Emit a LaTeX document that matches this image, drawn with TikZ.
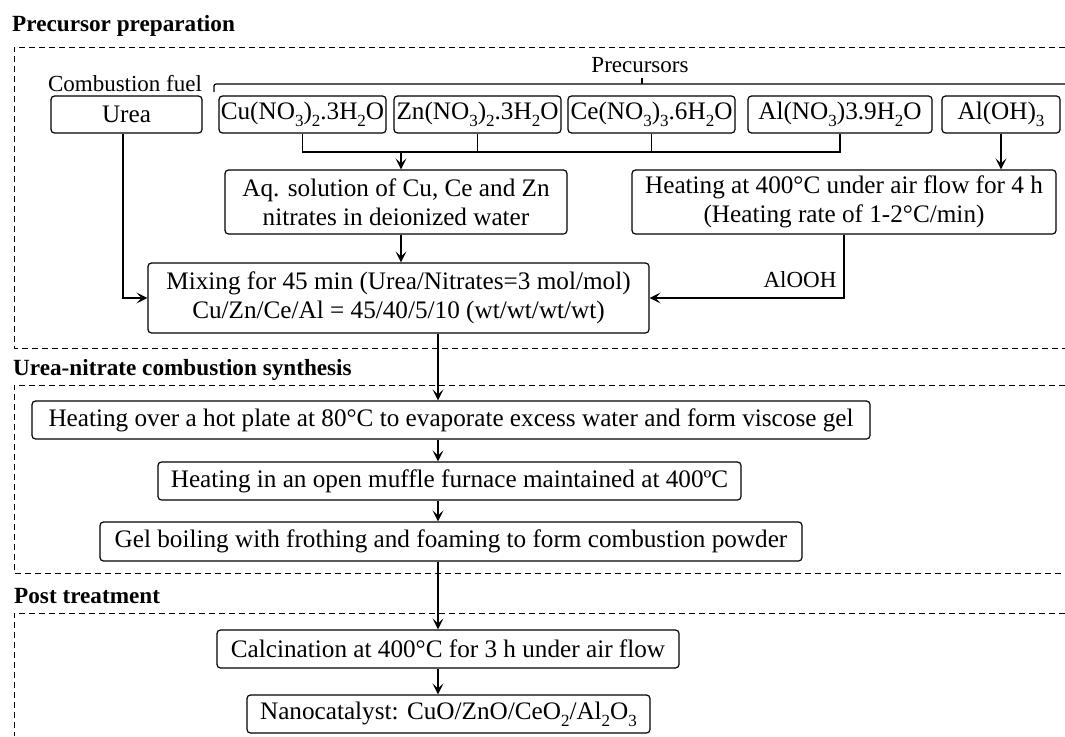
\documentclass[tikz,border=0pt]{standalone}
\usepackage{fontspec}
\setmainfont{Liberation Serif}
\usetikzlibrary{arrows.meta,calc}
\newcommand\sbs[1]{\raisebox{-0.28em}{\fontsize{17}{17}\selectfont #1}}
\begin{document}
\begin{tikzpicture}[x=1pt,y=-1pt,
  every node/.style={font=\fontsize{23}{27}\selectfont},
  box/.style={draw,rounded corners=3.5pt,line width=1.2pt,inner sep=1pt,align=center,font=\fontsize{25.2}{29}\selectfont},
  conn/.style={line width=1.2pt},
  arr/.style={conn,-{Stealth[length=11pt,width=11pt,inset=5pt]}},
  frame/.style={line width=0.9pt,dash pattern=on 6pt off 4pt},
  ttl/.style={anchor=base west,inner sep=0pt,font=\fontsize{23.2}{27}\selectfont\bfseries},
  lbl/.style={inner sep=0pt}
]
\useasboundingbox (0,0) rectangle (1065,736);
% frames
\draw[frame] (1065,47) -- (14,47) -- (14,348) -- (1065,348);
\draw[frame] (1065,385) -- (14,385) -- (14,573) -- (1065,573);
\draw[frame] (1065,613) -- (14,613) -- (14,736);
% titles
\node[ttl] (t1) at (12,31) {Precursor preparation};
\node[ttl] (t2) at (13,375) {Urea-nitrate combustion synthesis};
\node[ttl] (t3) at (14,603) {Post treatment};
% labels
\node[lbl,anchor=base] (fuel) at (125,91) {Combustion fuel};
\node[lbl,anchor=base] (prec) at (640,72) {Precursors};
\draw[conn,rounded corners=2pt] (214,92) -- (214,84) -- (1065,84);
\draw[conn] (642,84) -- (642,78);
% top row
\node[box,minimum width=151pt,minimum height=37pt] (urea) at (126.5,114.5) {Urea};
\node[box,minimum width=167pt,minimum height=37pt] (cu) at (302.5,114.5) {Cu(NO\sbs{3})\sbs{2}.3H\sbs{2}O};
\node[box,minimum width=167pt,minimum height=37pt] (zn) at (477.5,114.5) {Zn(NO\sbs{3})\sbs{2}.3H\sbs{2}O};
\node[box,minimum width=167pt,minimum height=37pt] (ce) at (651.5,114.5) {Ce(NO\sbs{3})\sbs{3}.6H\sbs{2}O};
\node[box,minimum width=184pt,minimum height=37pt] (aln) at (840,114.5) {Al(NO\sbs{3})3.9H\sbs{2}O};
\node[box,minimum width=118pt,minimum height=37pt] (aloh) at (1001,114.5) {Al(OH)\sbs{3}};
% second row
\node[box,minimum width=342pt,minimum height=64pt] (aq) at (396,202) {Aq. solution of Cu, Ce and Zn\\nitrates in deionized water};
\node[box,minimum width=424pt,minimum height=64pt] (heat) at (844,202) {Heating at 400°C under air flow for 4 h\\(Heating rate of 1-2°C/min)};
\node[box,minimum width=501pt,minimum height=70pt] (mix) at (398.5,298) {Mixing for 45 min (Urea/Nitrates=3 mol/mol)\\Cu/Zn/Ce/Al = 45/40/5/10 (wt/wt/wt/wt)};
% synthesis
\node[box,minimum width=838pt,minimum height=38pt] (h1) at (451,420) {Heating over a hot plate at 80°C to evaporate excess water and form viscose gel};
\node[box,minimum width=583pt,minimum height=38pt] (muf) at (449.5,481) {Heating in an open muffle furnace maintained at 400ºC};
\node[box,minimum width=702pt,minimum height=39pt] (gel) at (451,541.5) {Gel boiling with frothing and foaming to form combustion powder};
% post
\node[box,minimum width=462pt,minimum height=38pt] (calc) at (448,649) {Calcination at 400°C for 3 h under air flow};
\node[box,minimum width=403pt,minimum height=38pt] (nano) at (448.5,714) {Nanocatalyst: CuO/ZnO/CeO\sbs{2}/Al\sbs{2}O\sbs{3}};
% connectors
\coordinate (bar) at (0,152);
\coordinate (spine) at (438,0);
\coordinate (drop) at (401,0);
\draw[conn] (cu.south) -- (cu.south |- bar) -- (aln.south |- bar) -- (aln.south);
\draw[conn] (zn.south) -- (zn.south |- bar);
\draw[conn] (ce.south) -- (ce.south |- bar);
\draw[arr] (drop |- bar) -- (drop |- aq.north);
\draw[arr] (drop |- aq.south) -- (drop |- mix.north);
\draw[arr] (urea.south -| 123,0) |- (mix.west);
\draw[arr] (aloh.south) -- (aloh.south |- heat.north);
\draw[arr] (heat.south) |- (mix.east) node[pos=0.5,anchor=base east,inner sep=0pt,xshift=-7pt,yshift=11pt] {AlOOH};
\draw[arr] (mix.south -| spine) -- (h1.north -| spine);
\draw[arr] (h1.south -| spine) -- (muf.north -| spine);
\draw[arr] (muf.south -| spine) -- (gel.north -| spine);
\draw[arr] (gel.south -| spine) -- (calc.north -| spine);
\draw[arr] (calc.south -| spine) -- (nano.north -| spine);
\end{tikzpicture}
\end{document}
